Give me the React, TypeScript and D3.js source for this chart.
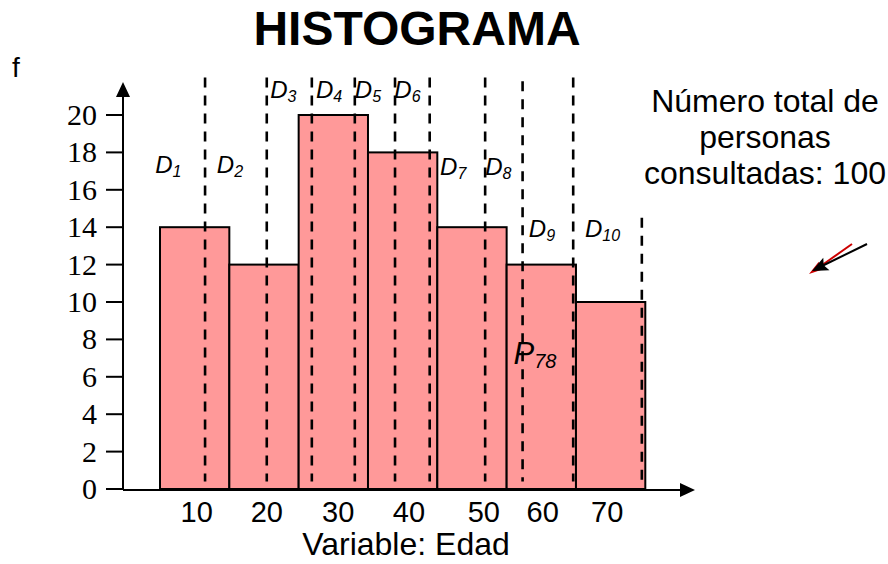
import React from "react";
import * as d3 from "d3";

const categories = ["10", "20", "30", "40", "50", "60", "70"];
const categoryLabelPos = [10.3, 20.4, 30.7, 40.9, 51.7, 60.2, 69.5];
const classStarts = [5, 15, 25, 35, 45, 55, 65];
const classWidth = 10;
const frequencies = [14, 12, 20, 18, 14, 12, 10];
const yTicks = [0, 2, 4, 6, 8, 10, 12, 14, 16, 18, 20];

const decileNames = ["1", "2", "3", "4", "5", "6", "7", "8", "9", "10"];
const decileValues = [11.5, 20.4, 26.9, 33.1, 38.9, 43.9, 51.9, 57.3, 64.6, 74.5];
const decileTops = [22, 22, 22, 22, 22, 22, 22, 21.8, 22, 14.5];
const decileLabelX = [4.3, 13.2, 20.9, 27.5, 33.1, 38.8, 45.4, 51.9, 58.2, 66.3];
const decileLabelY = [16.9, 16.9, 20.9, 20.9, 20.9, 20.9, 16.8, 16.8, 13.5, 13.5];

const percentileName = "78";
const percentileLabel = { x: 56.0, y: 6.7 };

const noteLines = ["Número total de", "personas", "consultadas: 100"];

const W = 888;
const H = 564;
const SANS = "'Liberation Sans', Arial, Helvetica, sans-serif";
const SERIF = "'Liberation Serif', 'Times New Roman', serif";

function arrowHead(x1: number, y1: number, x2: number, y2: number, len: number, half: number, notch: number) {
  const dx = x2 - x1;
  const dy = y2 - y1;
  const L = Math.hypot(dx, dy);
  const ux = dx / L;
  const uy = dy / L;
  const px = -uy;
  const py = ux;
  const bx = x2 - ux * len;
  const by = y2 - uy * len;
  const nx = x2 - ux * (len - notch);
  const ny = y2 - uy * (len - notch);
  return `M${x2},${y2} L${bx + px * half},${by + py * half} L${nx},${ny} L${bx - px * half},${by - py * half} Z`;
}

export default function App() {
  const x = d3.scaleLinear().domain([5, 75]).range([160, 645.3]);
  const y = d3.scaleLinear().domain([0, 20]).range([489, 115]);
  const axisX = 123;
  const axisY = 490;

  return (
    <svg
      width={W}
      height={H}
      viewBox={`0 0 ${W} ${H}`}
      style={{ position: "absolute", left: 0, top: 0, background: "#fff" }}
    >
      {/* title */}
      <text x={417} y={45} textAnchor="middle" fontFamily={SANS} fontWeight="bold" fontSize={48}>
        HISTOGRAMA
      </text>

      {/* f label */}
      <text x={12} y={77} fontFamily={SANS} fontSize={28}>f</text>

      {/* bars */}
      {frequencies.map((f, i) => (
        <rect
          key={"b" + i}
          x={x(classStarts[i])}
          y={y(f)}
          width={x(classStarts[i] + classWidth) - x(classStarts[i])}
          height={y(0) - y(f)}
          fill="#ff9999"
          stroke="#000"
          strokeWidth={2}
        />
      ))}

      {/* decile dashed lines */}
      {decileValues.map((v, i) => (
        <line
          key={"d" + i}
          x1={x(v)}
          x2={x(v)}
          y1={y(decileTops[i])}
          y2={y(0.4)}
          stroke="#000"
          strokeWidth={2.6}
          strokeDasharray="10,8"
        />
      ))}

      {/* decile labels */}
      {decileNames.map((n, i) => (
        <text
          key={"dl" + i}
          x={x(decileLabelX[i])}
          y={y(decileLabelY[i])}
          fontFamily={SANS}
          fontStyle="italic"
          fontSize={24}
        >
          D
          <tspan fontSize={16} dy={4}>{n}</tspan>
        </text>
      ))}

      {/* P78 */}
      <text x={x(percentileLabel.x)} y={y(percentileLabel.y)} fontFamily={SANS} fontStyle="italic" fontSize={31}>
        P
        <tspan fontSize={20} dy={4}>{percentileName}</tspan>
      </text>

      {/* y axis */}
      <line x1={axisX} x2={axisX} y1={axisY} y2={96} stroke="#000" strokeWidth={2} />
      <path d={`M${axisX - 7},${97} L${axisX},${82} L${axisX + 7},${97} z`} fill="#000" />
      {yTicks.map((t) => (
        <g key={"yt" + t}>
          <line x1={106} x2={axisX} y1={y(t)} y2={y(t)} stroke="#000" strokeWidth={2} />
          <text
            x={97}
            y={y(t) + 10}
            textAnchor="end"
            fontFamily={SERIF}
            fontSize={30}
          >
            {t}
          </text>
        </g>
      ))}

      {/* x axis */}
      <line x1={axisX} x2={682} y1={axisY} y2={axisY} stroke="#000" strokeWidth={2} />
      <path d={`M${680},${axisY - 7} L${695},${axisY} L${680},${axisY + 7} z`} fill="#000" />
      {categories.map((c, i) => (
        <text
          key={"xt" + i}
          x={x(categoryLabelPos[i])}
          y={522}
          textAnchor="middle"
          fontFamily={SANS}
          fontSize={29}
        >
          {c}
        </text>
      ))}
      <text x={406} y={555} textAnchor="middle" fontFamily={SANS} fontSize={32}>
        Variable: Edad
      </text>

      {/* note */}
      {noteLines.map((l, i) => (
        <text key={"n" + i} x={765} y={112 + i * 36} textAnchor="middle" fontFamily={SANS} fontSize={32}>
          {l}
        </text>
      ))}

      {/* arrows */}
      <line x1={852} y1={244} x2={818} y2={268} stroke="#cc0000" strokeWidth={2} />
      <path d={arrowHead(852, 244, 809, 274, 15, 4.5, 2)} fill="#cc0000" />
      <line x1={867} y1={244} x2={822} y2={266} stroke="#000" strokeWidth={2} />
      <path d={arrowHead(867, 244, 812, 271, 16, 7, 3)} fill="#000" />
    </svg>
  );
}
